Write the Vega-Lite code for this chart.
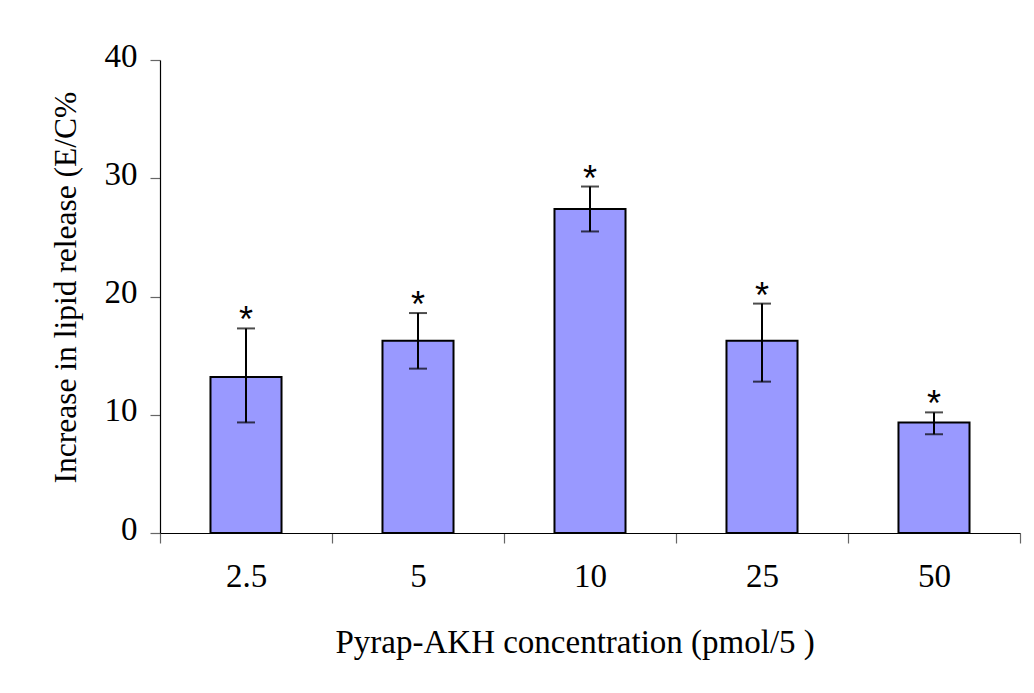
{
  "$schema": "https://vega.github.io/schema/vega-lite/v6.json",
  "autosize": "none",
  "width": 860,
  "height": 473,
  "padding": {"left": 160, "top": 60, "right": 14, "bottom": 160},
  "background": "white",
  "config": {
    "view": {"stroke": null},
    "font": "Liberation Serif",
    "axis": {"grid": false, "labelFont": "Liberation Serif", "titleFont": "Liberation Serif", "labelColor": "black", "titleColor": "black", "titleFontWeight": "normal", "domainColor": "black", "domainWidth": 1.2, "tickColor": "#666666", "tickWidth": 1.2, "tickSize": 10}
  },
  "data": {
    "values": [
      {"conc": "2.5", "mean": 13.2, "lower": 9.35, "upper": 17.3},
      {"conc": "5", "mean": 16.25, "lower": 13.9, "upper": 18.6},
      {"conc": "10", "mean": 27.4, "lower": 25.5, "upper": 29.3},
      {"conc": "25", "mean": 16.25, "lower": 12.8, "upper": 19.4},
      {"conc": "50", "mean": 9.35, "lower": 8.35, "upper": 10.2}
    ]
  },
  "encoding": {
    "x": {
      "field": "conc", "type": "nominal", "sort": null,
      "scale": {"type": "band", "paddingInner": 0, "paddingOuter": 0},
      "axis": {
        "title": "Pyrap-AKH concentration (pmol/5 )",
        "labelAngle": 0, "labelFontSize": 33, "labelPadding": 17,
        "tickBand": "extent",
        "titleFontSize": 33, "titleX": 175, "titleY": 119, "titleAlign": "left", "titleAnchor": "start", "titleBaseline": "alphabetic"
      }
    }
  },
  "layer": [
    {
      "mark": {"type": "bar", "fill": "#9999FF", "stroke": "black", "strokeWidth": 2, "width": {"band": 0.413}},
      "encoding": {
        "y": {
          "field": "mean", "type": "quantitative",
          "scale": {"domain": [0, 40], "nice": false, "zero": true},
          "axis": {
            "title": "Increase in lipid release (E/C%",
            "values": [0, 10, 20, 30, 40],
            "labelFontSize": 33, "labelPadding": 13, "labelOffset": -4,
            "titleFontSize": 31.5, "titleAngle": -90, "titleX": -85, "titleY": 423, "titleAlign": "left", "titleAnchor": "start", "titleBaseline": "alphabetic"
          }
        }
      }
    },
    {
      "mark": {"type": "rule", "stroke": "black", "strokeWidth": 2},
      "encoding": {"y": {"field": "lower", "type": "quantitative"}, "y2": {"field": "upper"}}
    },
    {
      "mark": {"type": "tick", "color": "black", "size": 18, "thickness": 2},
      "encoding": {"y": {"field": "upper", "type": "quantitative"}}
    },
    {
      "mark": {"type": "tick", "color": "black", "size": 18, "thickness": 2},
      "encoding": {"y": {"field": "lower", "type": "quantitative"}}
    },
    {
      "mark": {"type": "text", "text": "*", "font": "Liberation Sans", "fontSize": 36, "baseline": "alphabetic", "align": "center", "dy": 4, "color": "black"},
      "encoding": {"y": {"field": "upper", "type": "quantitative"}}
    }
  ]
}
